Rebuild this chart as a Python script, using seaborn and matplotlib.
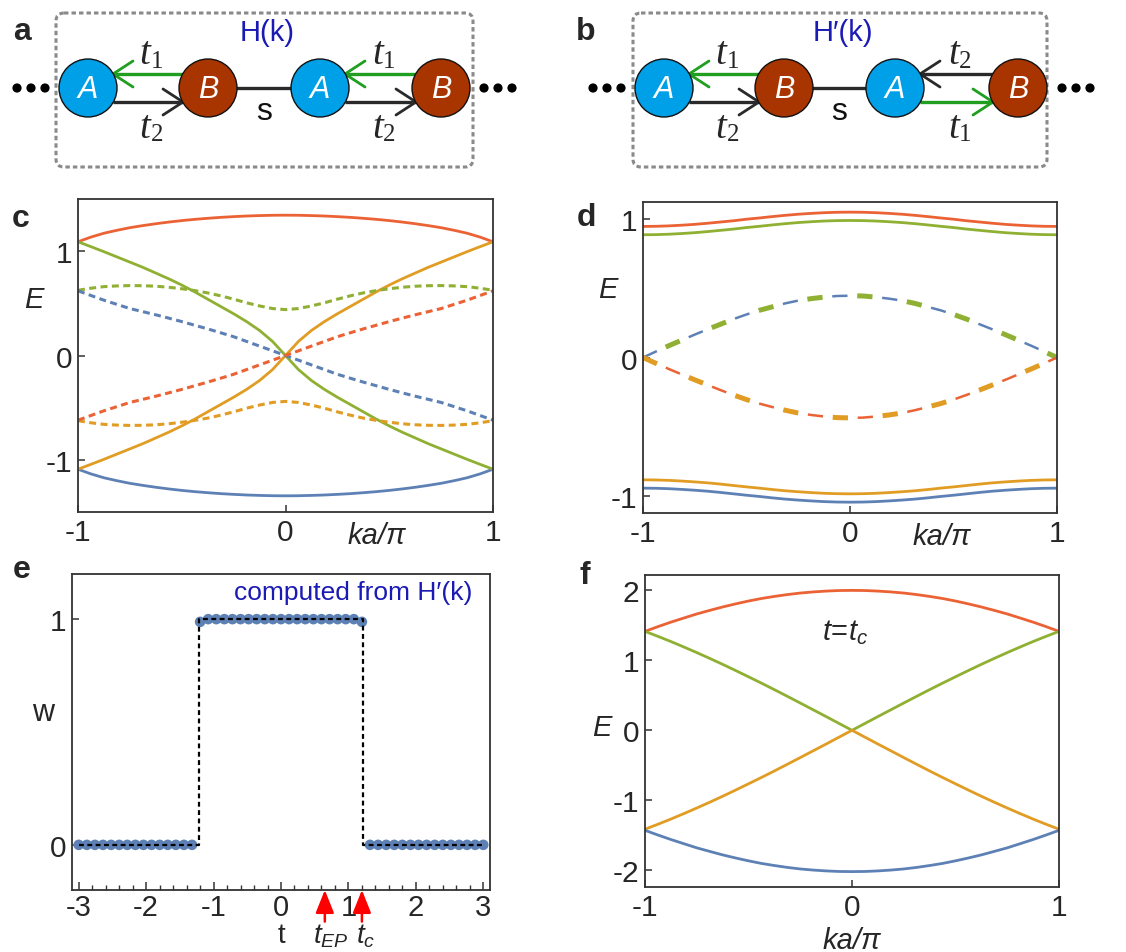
import numpy as np
import matplotlib
matplotlib.use("Agg")
import matplotlib.pyplot as plt
from matplotlib.patches import Circle, FancyBboxPatch
from matplotlib.ticker import MultipleLocator
import seaborn as sns

sns.set_theme(style="ticks")
plt.rcParams['font.family'] = ['Liberation Sans', 'DejaVu Sans']
plt.rcParams['mathtext.fontset'] = 'custom'
plt.rcParams['mathtext.it'] = 'Liberation Sans:italic'
plt.rcParams['mathtext.rm'] = 'Liberation Sans'
plt.rcParams['lines.scale_dashes'] = False
plt.rcParams['axes.unicode_minus'] = False
plt.rcParams['xtick.direction'] = 'in'
plt.rcParams['ytick.direction'] = 'in'

BLUE = '#5E81B5'
ORANGE = '#E19C24'
GREEN = '#8FB032'
RED = '#EB6235'

# ---- data ----
k = [-1, -0.9375, -0.875, -0.8125, -0.75, -0.6875, -0.625, -0.5625, -0.5,
     -0.4375, -0.375, -0.3125, -0.25, -0.1875, -0.125, -0.0625, 0,
     0.0625, 0.125, 0.1875, 0.25, 0.3125, 0.375, 0.4375, 0.5,
     0.5625, 0.625, 0.6875, 0.75, 0.8125, 0.875, 0.9375, 1]

# panel c : H(k)
c_red = [1.09, 1.135, 1.172, 1.2, 1.225, 1.245, 1.263, 1.279, 1.293,
         1.305, 1.315, 1.324, 1.331, 1.337, 1.341, 1.344, 1.345,
         1.344, 1.341, 1.337, 1.331, 1.324, 1.315, 1.305, 1.293,
         1.279, 1.263, 1.245, 1.225, 1.2, 1.172, 1.135, 1.09]
c_blue = [-1.09, -1.135, -1.172, -1.2, -1.225, -1.245, -1.263, -1.279, -1.293,
          -1.305, -1.315, -1.324, -1.331, -1.337, -1.341, -1.344, -1.345,
          -1.344, -1.341, -1.337, -1.331, -1.324, -1.315, -1.305, -1.293,
          -1.279, -1.263, -1.245, -1.225, -1.2, -1.172, -1.135, -1.09]
c_orange = [-1.09, -1.043, -0.995, -0.945, -0.895, -0.845, -0.79, -0.735, -0.675,
            -0.61, -0.54, -0.47, -0.40, -0.325, -0.24, -0.135, 0,
            0.135, 0.24, 0.325, 0.40, 0.47, 0.54, 0.61, 0.675,
            0.735, 0.79, 0.845, 0.895, 0.945, 0.995, 1.043, 1.09]
c_green = [1.09, 1.043, 0.995, 0.945, 0.895, 0.845, 0.79, 0.735, 0.675,
           0.61, 0.54, 0.47, 0.40, 0.325, 0.24, 0.135, 0,
           -0.135, -0.24, -0.325, -0.40, -0.47, -0.54, -0.61, -0.675,
           -0.735, -0.79, -0.845, -0.895, -0.945, -0.995, -1.043, -1.09]
c_green_d = [0.625, 0.645, 0.66, 0.667, 0.67, 0.669, 0.664, 0.654, 0.64,
             0.622, 0.60, 0.572, 0.54, 0.505, 0.475, 0.45, 0.44,
             0.45, 0.475, 0.505, 0.54, 0.572, 0.60, 0.622, 0.64,
             0.654, 0.664, 0.669, 0.67, 0.667, 0.66, 0.645, 0.625]
c_orange_d = [-0.625, -0.645, -0.66, -0.667, -0.67, -0.669, -0.664, -0.654, -0.64,
              -0.622, -0.60, -0.572, -0.54, -0.505, -0.475, -0.45, -0.44,
              -0.45, -0.475, -0.505, -0.54, -0.572, -0.60, -0.622, -0.64,
              -0.654, -0.664, -0.669, -0.67, -0.667, -0.66, -0.645, -0.625]
c_blue_d = [0.62, 0.575, 0.53, 0.49, 0.45, 0.42, 0.39, 0.358, 0.325,
            0.29, 0.255, 0.218, 0.18, 0.135, 0.09, 0.045, 0,
            -0.045, -0.09, -0.135, -0.18, -0.218, -0.255, -0.29, -0.325,
            -0.358, -0.39, -0.42, -0.45, -0.49, -0.53, -0.575, -0.62]
c_red_d = [-0.62, -0.575, -0.53, -0.49, -0.45, -0.42, -0.39, -0.358, -0.325,
           -0.29, -0.255, -0.218, -0.18, -0.135, -0.09, -0.045, 0,
           0.045, 0.09, 0.135, 0.18, 0.218, 0.255, 0.29, 0.325,
           0.358, 0.39, 0.42, 0.45, 0.49, 0.53, 0.575, 0.62]

# panel d : H'(k)
d_red = [0.944, 0.945, 0.948, 0.953, 0.959, 0.967, 0.976, 0.985, 0.996,
         1.005, 1.015, 1.024, 1.032, 1.038, 1.043, 1.046, 1.047,
         1.046, 1.043, 1.038, 1.032, 1.024, 1.015, 1.005, 0.996,
         0.985, 0.976, 0.967, 0.959, 0.953, 0.948, 0.945, 0.944]
d_green = [0.884, 0.885, 0.888, 0.893, 0.899, 0.907, 0.916, 0.925, 0.936,
           0.945, 0.955, 0.964, 0.972, 0.978, 0.983, 0.986, 0.987,
           0.986, 0.983, 0.978, 0.972, 0.964, 0.955, 0.945, 0.936,
           0.925, 0.916, 0.907, 0.899, 0.893, 0.888, 0.885, 0.884]
d_orange = [-0.881, -0.882, -0.885, -0.89, -0.896, -0.903, -0.912, -0.922, -0.932,
            -0.941, -0.951, -0.96, -0.967, -0.973, -0.978, -0.981, -0.982,
            -0.981, -0.978, -0.973, -0.967, -0.96, -0.951, -0.941, -0.932,
            -0.922, -0.912, -0.903, -0.896, -0.89, -0.885, -0.882, -0.881]
d_blue = [-0.941, -0.942, -0.945, -0.95, -0.956, -0.963, -0.972, -0.982, -0.992,
          -1.001, -1.011, -1.02, -1.027, -1.033, -1.038, -1.041, -1.042,
          -1.041, -1.038, -1.033, -1.027, -1.02, -1.011, -1.001, -0.992,
          -0.982, -0.972, -0.963, -0.956, -0.95, -0.945, -0.942, -0.941]
d_upper = [0, 0.043, 0.085, 0.125, 0.165, 0.203, 0.24, 0.277, 0.31,
           0.34, 0.365, 0.39, 0.41, 0.424, 0.435, 0.443, 0.445,
           0.443, 0.435, 0.424, 0.41, 0.39, 0.365, 0.34, 0.31,
           0.277, 0.24, 0.203, 0.165, 0.125, 0.085, 0.043, 0]
d_lower = [0, -0.042, -0.083, -0.122, -0.161, -0.198, -0.235, -0.27, -0.303,
           -0.332, -0.357, -0.38, -0.40, -0.414, -0.425, -0.433, -0.435,
           -0.433, -0.425, -0.414, -0.40, -0.38, -0.357, -0.332, -0.303,
           -0.27, -0.235, -0.198, -0.161, -0.122, -0.083, -0.042, 0]

# panel f : t = t_c
f_red = [1.414, 1.482, 1.546, 1.605, 1.663, 1.714, 1.763, 1.807, 1.848,
         1.884, 1.914, 1.94, 1.962, 1.978, 1.99, 1.998, 2.0,
         1.998, 1.99, 1.978, 1.962, 1.94, 1.914, 1.884, 1.848,
         1.807, 1.763, 1.714, 1.663, 1.605, 1.546, 1.482, 1.414]
f_blue = [-1.43, -1.497, -1.561, -1.621, -1.68, -1.731, -1.781, -1.825, -1.866,
          -1.903, -1.933, -1.96, -1.982, -1.998, -2.01, -2.018, -2.02,
          -2.018, -2.01, -1.998, -1.982, -1.96, -1.933, -1.903, -1.866,
          -1.825, -1.781, -1.731, -1.68, -1.621, -1.561, -1.497, -1.43]
f_green = [1.414, 1.343, 1.269, 1.191, 1.111, 1.028, 0.943, 0.855, 0.765,
           0.674, 0.581, 0.486, 0.39, 0.293, 0.196, 0.098, 0,
           0.098, 0.196, 0.293, 0.39, 0.486, 0.581, 0.674, 0.765,
           0.855, 0.943, 1.028, 1.111, 1.191, 1.269, 1.343, 1.414]
f_orange = [-1.414, -1.343, -1.269, -1.191, -1.111, -1.028, -0.943, -0.855, -0.765,
            -0.674, -0.581, -0.486, -0.39, -0.293, -0.196, -0.098, 0,
            -0.098, -0.196, -0.293, -0.39, -0.486, -0.581, -0.674, -0.765,
            -0.855, -0.943, -1.028, -1.111, -1.191, -1.269, -1.343, -1.414]

# panel e : winding number
e_t = np.linspace(-3, 3, 51)
e_w = [0, 0, 0, 0, 0, 0, 0, 0, 0, 0, 0, 0, 0, 0, 0,
       0.988, 1, 1, 1, 1, 1, 1, 1, 1, 1, 1, 1, 1, 1, 1, 1, 1, 1, 1, 1, 0.988,
       0, 0, 0, 0, 0, 0, 0, 0, 0, 0, 0, 0, 0, 0, 0]
step_t = [-3, -1.21, -1.21, 1.21, 1.21, 3]
step_w = [0, 0, 1, 1, 0, 0]
t_ep = 0.65
t_c = 1.2

W, H = 1126, 953
fig = plt.figure(figsize=(W / 100, H / 100), dpi=100)


def rect(l, t, r, b):
    return [l / W, 1 - b / H, (r - l) / W, (b - t) / H]


def frame(ax):
    for s in ax.spines.values():
        s.set_color('#333333')
        s.set_linewidth(1.3)
    ax.tick_params(labelsize=21.5, length=5, width=1.1, color='#333333',
                   top=False, right=False, pad=4)


def curve(ax, y, color, lw=2.0, ls='-'):
    sns.lineplot(x=k, y=y, ax=ax, color=color, linewidth=lw, linestyle=ls,
                 estimator=None, sort=False)


# ---- panels a, b : lattice sketches ----
ax0 = fig.add_axes([0, 1 - 180 / H, 1, 180 / H])
ax0.set_xlim(0, W)
ax0.set_ylim(180, 0)
ax0.axis('off')

DGREEN = '#1f9e1f'
DARK = '#2a2a2a'
CY = 89
R = 29


def arrow(x_from, x_to, y, color):
    ax0.plot([x_from, x_to], [y, y], color=color, lw=2.4, solid_capstyle='butt')
    d = 1 if x_to > x_from else -1
    ax0.plot([x_to - d * 20, x_to, x_to - d * 20], [y - 13, y, y + 13],
             color=color, lw=2.0, solid_joinstyle='miter')


def tlabel(x, y, sub):
    ax0.text(x - 3, y, 't', family='Liberation Serif', style='italic',
             fontsize=28, ha='center', va='center')
    ax0.text(x + 9, y + 7, sub, family='Liberation Serif',
             fontsize=18, ha='center', va='center')


def sketch(xs, box, pairs, title, label, dots):
    ax0.add_patch(FancyBboxPatch((box[0], 14), box[1] - box[0], 154,
                                 boxstyle='round,pad=0,rounding_size=8',
                                 fill=False, ec='#8a8a8a', lw=2.2,
                                 ls=(0, (3.2, 2.2))))
    ax0.plot([xs[1] + R, xs[2] - R], [CY, CY], color=DARK, lw=2.4)
    dx = 25
    for (i, top, bot) in pairs:
        xa, xb = xs[i], xs[i + 1]
        for (col, lab, direction), yy, ly in ((top, 75, 55), (bot, 103, 128)):
            if direction == 'left':
                arrow(xb - dx, xa + dx, yy, col)
            else:
                arrow(xa + dx, xb - dx, yy, col)
            tlabel((xa + xb) / 2, ly, lab)
    for j, x in enumerate(xs):
        name = 'A' if j % 2 == 0 else 'B'
        fc = '#00A0E9' if name == 'A' else '#A83400'
        ax0.add_patch(Circle((x, CY), R, fc=fc, ec='#111111', lw=1.0, zorder=3))
        ax0.text(x, CY + 1, name, color='white', style='italic', fontsize=22,
                 ha='center', va='center', zorder=4)
    ax0.text((xs[1] + xs[2]) / 2, 112, 's', fontsize=23, ha='center',
             va='center', color='#111111')
    ax0.text((xs[1] + xs[2]) / 2 + 3, 33, title, fontsize=21, ha='center',
             va='center', color='#1a1ab4')
    ax0.text(label[0], label[1], label[2], fontsize=23, fontweight='bold',
             ha='center', va='center')
    for x in dots:
        ax0.add_patch(Circle((x, CY), 4.6, fc='black', ec='none'))


sketch([88, 208, 320, 441], (56, 473),
       [(0, (DGREEN, '1', 'left'), (DARK, '2', 'right')),
        (2, (DGREEN, '1', 'left'), (DARK, '2', 'right'))],
       'H(k)', (22, 32, 'a'), [17, 31, 45, 484, 498, 512])
sketch([664, 784, 895, 1018], (633, 1047),
       [(0, (DGREEN, '1', 'left'), (DARK, '2', 'right')),
        (2, (DARK, '2', 'left'), (DGREEN, '1', 'right'))],
       "H\u2032(k)", (586, 32, 'b'), [593, 607, 621, 1062, 1076, 1090])

# ---- panel c ----
axc = fig.add_axes(rect(78, 200, 493, 513))
curve(axc, c_red, RED)
curve(axc, c_blue, BLUE)
curve(axc, c_orange, ORANGE)
curve(axc, c_green, GREEN)
dot = (0, (5, 3.2))
curve(axc, c_green_d, GREEN, 2.2, dot)
curve(axc, c_orange_d, ORANGE, 2.2, dot)
curve(axc, c_blue_d, BLUE, 2.2, dot)
curve(axc, c_red_d, RED, 2.2, dot)
axc.set_xlim(-1, 1)
axc.set_ylim(-1.5, 1.5)
axc.set_xticks([-1, 0, 1])
axc.set_xticklabels(['-1', '0', '1'])
axc.set_yticks([-1, 0, 1])
axc.set_yticklabels(['-1', '0', '1'])
frame(axc)
axc.text(0.3, -0.075, 'ka/\u03c0', style='italic', fontsize=21,
         transform=axc.get_xaxis_transform(), ha='left', va='center')
axc.text(-0.106, 0.68, 'E', style='italic', fontsize=21,
         transform=axc.transAxes, ha='center', va='center')
fig.text(21 / W, 1 - 219 / H, 'c', fontsize=23, fontweight='bold',
         ha='center', va='center')

# ---- panel d ----
axd = fig.add_axes(rect(643, 203, 1057, 514))
curve(axd, d_red, RED)
curve(axd, d_green, GREEN)
curve(axd, d_orange, ORANGE)
curve(axd, d_blue, BLUE)
curve(axd, d_upper, GREEN, 3.6, (18, (11, 25)))
curve(axd, d_upper, BLUE, 1.8, (0, (11, 25)))
curve(axd, d_lower, ORANGE, 3.6, (0, (11, 25)))
curve(axd, d_lower, RED, 1.8, (18, (11, 25)))
axd.set_xlim(-1, 1)
axd.set_ylim(-1.12, 1.12)
axd.set_xticks([-1, 0, 1])
axd.set_xticklabels(['-1', '0', '1'])
axd.set_yticks([-1, 0, 1])
axd.set_yticklabels(['-1', '0', '1'])
frame(axd)
axd.text(0.3, -0.075, 'ka/\u03c0', style='italic', fontsize=21,
         transform=axd.get_xaxis_transform(), ha='left', va='center')
axd.text(-0.085, 0.72, 'E', style='italic', fontsize=21,
         transform=axd.transAxes, ha='center', va='center')
fig.text(586 / W, 1 - 218 / H, 'd', fontsize=23, fontweight='bold',
         ha='center', va='center')

# ---- panel e ----
axe = fig.add_axes(rect(72, 575, 490, 891))
sns.scatterplot(x=e_t, y=e_w, ax=axe, color=BLUE, s=58, edgecolor='none',
                zorder=2)
sns.lineplot(x=step_t, y=step_w, ax=axe, color='black', linewidth=1.6,
             linestyle=(0, (3.5, 2.5)), estimator=None, sort=False, zorder=3)
axe.set_xlim(-3.1, 3.1)
axe.set_ylim(-0.2, 1.2)
axe.set_xticks([-3, -2, -1, 0, 1, 2, 3])
axe.set_xticklabels(['-3', '-2', '-1', '0', '1', '2', '3'])
axe.xaxis.set_minor_locator(MultipleLocator(0.2))
axe.set_yticks([0, 1])
frame(axe)
axe.tick_params(axis='x', length=6, pad=2, labelsize=21)
axe.tick_params(axis='x', which='minor', length=3.5, width=1.0,
                color='#333333', top=False, bottom=True)
for tx in (t_ep, t_c):
    axe.annotate('', xy=(tx, 0.0), xycoords=('data', 'axes fraction'),
                 xytext=(tx, -0.1), textcoords=('data', 'axes fraction'),
                 arrowprops=dict(arrowstyle='-|>,head_length=0.7,head_width=0.28',
                                 color='red', lw=1.8, mutation_scale=20,
                                 shrinkA=0, shrinkB=0),
                 annotation_clip=False)
xtr = axe.get_xaxis_transform()
ybase = -0.1646
axe.text(0, ybase, 't', fontsize=20, transform=xtr, ha='center', va='baseline')
axe.text(t_ep + 0.09, ybase, r'$t_{EP}$', fontsize=20, transform=xtr,
         ha='center', va='baseline')
axe.text(t_c + 0.05, ybase, r'$t_c$', fontsize=20, transform=xtr,
         ha='center', va='baseline')
axe.text(-0.069, 0.563, 'w', fontsize=22, transform=axe.transAxes,
         ha='center', va='center')
axe.text(0.957, 0.943, "computed from H\u2032(k)", fontsize=19,
         color='#1a1ab4', transform=axe.transAxes, ha='right', va='center')
fig.text(22 / W, 1 - 570 / H, 'e', fontsize=23, fontweight='bold',
         ha='center', va='center')

# ---- panel f ----
axf = fig.add_axes(rect(645, 576, 1059, 888))
curve(axf, f_red, RED)
curve(axf, f_green, GREEN)
curve(axf, f_orange, ORANGE)
curve(axf, f_blue, BLUE)
axf.set_xlim(-1, 1)
axf.set_ylim(-2.24, 2.22)
axf.set_xticks([-1, 0, 1])
axf.set_xticklabels(['-1', '0', '1'])
axf.set_yticks([-2, -1, 0, 1, 2])
axf.set_yticklabels(['-2', '-1', '0', '1', '2'])
frame(axf)
axf.tick_params(axis='x', pad=4)
axf.text(0.5, -0.17, 'ka/\u03c0', style='italic', fontsize=21,
         transform=axf.transAxes, ha='center', va='center')
axf.text(-0.104, 0.513, 'E', style='italic', fontsize=21,
         transform=axf.transAxes, ha='center', va='center')
axf.text(-0.03, 1.41, r'$t\!=\!t_c$', fontsize=21, ha='center', va='center')
fig.text(585 / W, 1 - 576 / H, 'f', fontsize=23, fontweight='bold',
         ha='center', va='center')

fig.savefig('out.png', dpi=100)
